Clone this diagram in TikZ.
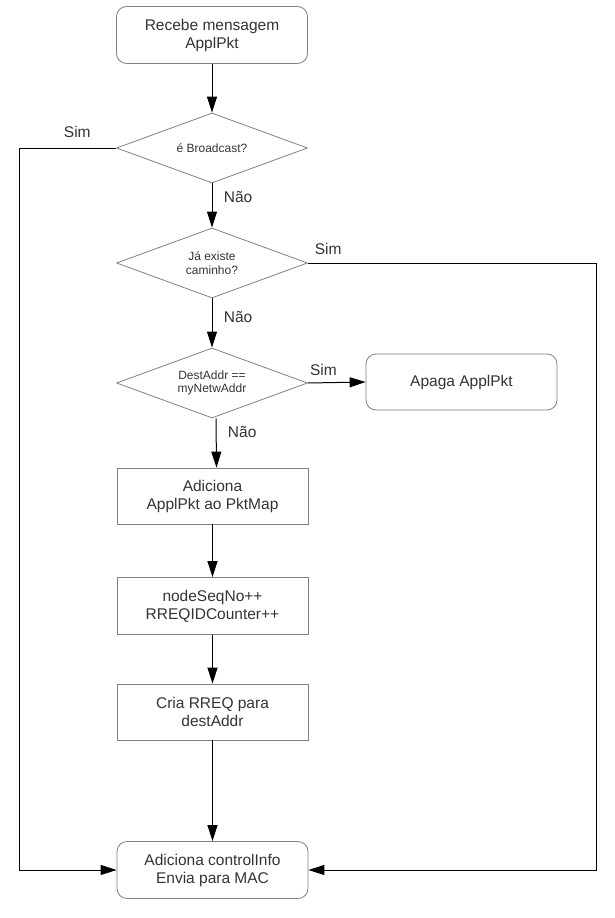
\documentclass[tikz,border=0pt]{standalone}
\usepackage{fontspec}
\setmainfont{Liberation Sans}
\usepackage{xcolor}
\usetikzlibrary{shapes.geometric,arrows.meta}
\definecolor{boxgray}{RGB}{128,128,128}
\definecolor{txtgray}{RGB}{51,51,51}

\begin{document}
\begin{tikzpicture}[x=1pt, y=-1pt]
  \tikzstyle{myline}=[line width=1pt, line join=miter];
  \tikzstyle{mytext}=[text=txtgray, align=center, font=\fontsize{15.5}{18}\selectfont];
  \tikzstyle{myask}=[text=txtgray, align=center, font=\fontsize{12}{13.5}\selectfont];
  \tikzstyle{mybox}=[mytext, draw=boxgray, line width=0.8pt, minimum width=191pt, minimum height=56pt, inner sep=2pt];
  \tikzstyle{myround}=[mybox, rounded corners=10pt];
  \tikzstyle{mydiam}=[myask, draw=boxgray, line width=0.8pt, diamond, aspect=2.7, inner sep=1pt, minimum width=191pt, minimum height=70pt];
  \tikzstyle{myconn}=[myline, -{Triangle[length=16pt, width=10pt]}];
  \tikzstyle{myno}=[mytext, right=8pt, pos=0.3];
  %
  \useasboundingbox (0, 0) rectangle (614, 918);
  %
  % start
  \node[myround, minimum height=57pt] (recebe) at (212, 35) {Recebe mensagem\\ApplPkt};
  %
  % decisions
  \node[mydiam] (bcast) at (212, 148) {é Broadcast?};
  \node[mydiam] (caminho) at (212, 263) {Já existe\\caminho?};
  \node[mydiam] (dest) at (212, 383) {DestAddr ==\\myNetwAddr};
  \node[myround] (apaga) at (461.5, 382) {Apaga ApplPkt};
  %
  % steps
  \node[mybox] (pktmap) at (212.5, 496) {Adiciona\\ApplPkt ao PktMap};
  \node[mybox, minimum height=57pt] (seqno) at (212.5, 606) {nodeSeqNo++\\RREQIDCounter++};
  \node[mybox] (rreq) at (212.5, 712) {Cria RREQ para\\destAddr};
  \node[myround, minimum height=57pt] (envia) at (212.5, 870) {Adiciona controlInfo\\Envia para MAC};
  %
  % connections
  \draw[myconn] (recebe) -- (bcast);
  \draw[myconn] (bcast) -- node[myno] {Não} (caminho);
  \draw[myconn] (caminho) -- node[myno, pos=0.38] {Não} (dest);
  \draw[myconn] ([xshift=4pt]dest.south) -- node[myno, pos=0.28] {Não} ([xshift=4pt]pktmap.north);
  \draw[myconn] (dest.east) -- node[mytext, above=3pt, pos=0.27] {Sim} (apaga.west);
  \draw[myconn] (pktmap) -- (seqno);
  \draw[myconn] (seqno) -- (rreq);
  \draw[myconn] (rreq) -- (envia);
  %
  % bypass lines
  \draw[myconn] (bcast.west) -- node[mytext, above=7pt, pos=0.4] {Sim} ++(-97, 0) |- (envia.west);
  \draw[myconn] (caminho.east) -- node[mytext, above=5pt, pos=0.07] {Sim} ++(289, 0) |- (envia.east);
\end{tikzpicture}
\end{document}
